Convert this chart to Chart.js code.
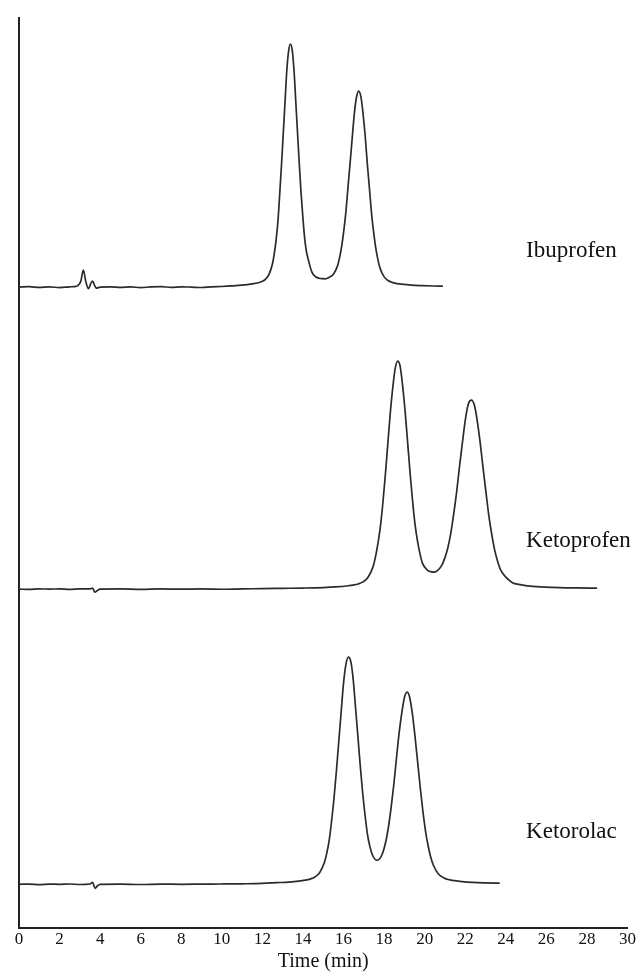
<!DOCTYPE html>
<html>
<head>
<meta charset="utf-8">
<script src="https://cdn.jsdelivr.net/npm/chart.js@4.4.1/dist/chart.umd.min.js"></script>
<style>
  html, body { margin: 0; padding: 0; background: #fff; }
  #wrap { position: relative; width: 638px; height: 973px; }
</style>
</head>
<body>
<div id="wrap"><canvas id="myChart"></canvas></div>
<script>
'use strict';

// compound names, top to bottom
var traceNames = ['Ibuprofen', 'Ketoprofen', 'Ketorolac'];

// x axis ticks (min)
var timeTicks = [0, 2, 4, 6, 8, 10, 12, 14, 16, 18, 20, 22, 24, 26, 28, 30];

// Ibuprofen trace: time (min) / detector signal (arb. units)
var ibuTime = [
  0, 0.5, 1, 1.5, 2, 2.5, 2.7, 2.9, 3.05, 3.17,
  3.3, 3.42, 3.55, 3.63, 3.72, 3.82, 4, 4.5, 5, 5.5,
  6, 6.5, 7, 7.5, 8, 8.5, 9, 9.5, 10, 10.5,
  11, 11.5, 11.8, 12, 12.15, 12.32, 12.5, 12.59, 12.68, 12.77,
  12.85, 12.94, 13.03, 13.12, 13.2, 13.29, 13.38, 13.47, 13.56, 13.64,
  13.73, 13.82, 13.91, 14, 14.08, 14.17, 14.26, 14.44, 14.61, 14.79,
  14.96, 15.1, 15.28, 15.49, 15.7, 15.8, 15.91, 16.01, 16.12, 16.22,
  16.33, 16.44, 16.54, 16.65, 16.75, 16.86, 16.96, 17.07, 17.17, 17.28,
  17.38, 17.49, 17.59, 17.7, 17.8, 18.01, 18.22, 18.43, 18.64, 18.85,
  19.35, 19.9, 20.4, 20.9
];
var ibuSignal = [
  0, 0.4, -0.3, 0.2, -0.5, 0.3, 0.5, 1.5, 6, 17,
  5, -1.5, 4, 6, 2, -1, 0, 0.3, -0.3, 0.2,
  -0.5, 0.2, 0.4, -0.2, 0.3, 0, -0.4, 0.3, 0.6, 1.2,
  2, 3.3, 4.4, 5.8, 7.8, 12.4, 23.6, 34, 48, 67,
  92, 121.5, 154, 186.6, 215.5, 235.7, 243, 237, 216.5, 187.5,
  155, 122.5, 93, 68.5, 49.5, 35.7, 27.7, 15, 10.6, 8.9,
  8.4, 8.3, 9.6, 12.6, 21, 29, 41, 56, 76, 100,
  125.5, 152, 175, 191, 196, 190, 174, 150.5, 124, 98,
  74, 54, 39, 27, 19, 10, 6.3, 4.5, 3.5, 2.9,
  1.9, 1.4, 1.1, 0.9
];

// Ketoprofen trace
var ketoTime = [
  0, 0.5, 1, 1.5, 2, 2.5, 3, 3.5, 3.63, 3.74,
  3.85, 4, 5, 6, 7, 8, 9, 10, 11, 12,
  13, 14, 15, 15.6, 16.23, 16.47, 16.72, 16.96, 17.2, 17.45,
  17.57, 17.69, 17.82, 17.94, 18.06, 18.18, 18.3, 18.43, 18.55, 18.67,
  18.79, 18.91, 19.04, 19.16, 19.28, 19.4, 19.52, 19.65, 19.77, 19.89,
  20.13, 20.3, 20.45, 20.6, 20.85, 20.99, 21.14, 21.29, 21.43, 21.58,
  21.72, 21.87, 22.01, 22.16, 22.3, 22.45, 22.59, 22.74, 22.88, 23.03,
  23.17, 23.32, 23.46, 23.61, 23.75, 24.04, 24.33, 24.62, 24.91, 25.2,
  25.93, 26.65, 27.5, 28.5
];
var ketoSignal = [
  0, -0.3, 0.3, 0, 0.3, -0.2, 0.3, 0.2, 1, -3,
  -1.5, 0, 0.2, -0.2, 0.2, 0, 0.2, -0.1, 0.3, 0.5,
  0.8, 1.1, 1.6, 2.2, 3.4, 4.1, 5.2, 7.3, 11.6, 22,
  31.7, 45, 63, 86.4, 114, 144.5, 175, 202, 221, 228,
  223, 204, 177, 146.7, 116.4, 89, 65.6, 47.8, 35.3, 26,
  19, 17.5, 17, 18, 24, 31, 41.2, 56, 75, 97.7,
  123, 148, 170, 185.5, 189, 184, 168.5, 146, 121, 95.5,
  72.5, 53.2, 38.2, 27, 19, 11.3, 6.5, 4.7, 3.8, 3.1,
  2.1, 1.5, 1.2, 1
];

// Ketorolac trace
var ketorTime = [
  0, 0.5, 1, 1.5, 2, 2.5, 3, 3.5, 3.63, 3.75,
  3.87, 4, 5, 6, 7, 8, 9, 10, 11, 12,
  12.7, 13.3, 13.88, 14.12, 14.35, 14.59, 14.82, 15.06, 15.18, 15.3,
  15.41, 15.53, 15.65, 15.77, 15.89, 16, 16.12, 16.24, 16.36, 16.48,
  16.59, 16.71, 16.83, 16.95, 17.07, 17.18, 17.3, 17.42, 17.65, 17.89,
  18.09, 18.22, 18.35, 18.48, 18.61, 18.74, 18.87, 19, 19.13, 19.26,
  19.39, 19.52, 19.65, 19.78, 19.91, 20.04, 20.17, 20.3, 20.43, 20.69,
  20.95, 21.21, 21.47, 21.73, 22.38, 23.03, 23.7
];
var ketorSignal = [
  0, 0.2, -0.3, 0.2, 0, 0.3, -0.2, 0.3, 2, -4,
  -1.5, 0, 0.2, -0.2, 0.2, 0, 0.2, 0.3, 0.5, 0.9,
  1.6, 2.2, 3.4, 4.1, 5.2, 7.3, 11.6, 22, 31.6, 45,
  63, 86, 113.5, 144, 174, 201, 220, 227, 222.5, 204,
  177, 147.3, 117, 90, 67.5, 50, 37.6, 29.5, 24, 29.3,
  43.3, 58, 77.3, 100, 126, 151, 171, 186.5, 192, 187,
  171, 148.5, 123, 97, 73.5, 53.5, 38.5, 27, 19, 10,
  6.3, 4.5, 3.6, 3, 1.9, 1.4, 1.1
];

function toPoints(times, values) {
  return times.map(function(t, i) { return { x: t, y: values[i] }; });
}

function traceAxis(min, max, weight) {
  return {
    type: 'linear',
    position: 'left',
    stack: 'traces',
    stackWeight: 1,
    weight: weight,
    min: min,
    max: max,
    ticks: { display: false },
    grid: { display: false, drawTicks: false },
    border: { color: '#222', width: 2 }
  };
}

// writes the compound name next to each trace
var nameLabels = {
  id: 'nameLabels',
  afterDatasetsDraw: function(chart, args, opts) {
    var ctx = chart.ctx;
    var x = chart.scales.x.getPixelForValue(opts.at);
    ctx.save();
    ctx.font = '23px "Liberation Serif", "Times New Roman", serif';
    ctx.fillStyle = '#111';
    ctx.textAlign = 'left';
    ctx.textBaseline = 'alphabetic';
    chart.data.datasets.forEach(function(ds, i) {
      var y = chart.scales[ds.yAxisID].getPixelForValue(opts.levels[i]);
      ctx.fillText(ds.label, x, y);
    });
    ctx.restore();
  }
};

var lineStyle = {
  borderColor: '#2b2b2b',
  borderWidth: 1.7,
  pointRadius: 0,
  fill: false,
  cubicInterpolationMode: 'monotone'
};

var ctx = document.getElementById('myChart').getContext('2d');

var chart = new Chart(ctx, {
  type: 'line',
  data: {
    datasets: [
      Object.assign({ label: traceNames[0], yAxisID: 'yIbu', data: toPoints(ibuTime, ibuSignal) }, lineStyle),
      Object.assign({ label: traceNames[1], yAxisID: 'yKeto', data: toPoints(ketoTime, ketoSignal) }, lineStyle),
      Object.assign({ label: traceNames[2], yAxisID: 'yKetor', data: toPoints(ketorTime, ketorSignal) }, lineStyle)
    ]
  },
  options: {
    responsive: true,
    maintainAspectRatio: false,
    animation: false,
    layout: { padding: { left: 19, right: 10, top: 18, bottom: 0 } },
    plugins: {
      legend: { display: false },
      tooltip: { enabled: false },
      nameLabels: { at: 25, levels: [30, 42, 46] }
    },
    scales: {
      x: {
        type: 'linear',
        min: 0,
        max: 30,
        afterBuildTicks: function(axis) {
          axis.ticks = timeTicks.map(function(v) { return { value: v }; });
        },
        ticks: {
          color: '#111',
          padding: 2,
          maxRotation: 0,
          autoSkip: false,
          font: { family: '"Liberation Serif", serif', size: 17, lineHeight: 1.1 }
        },
        grid: { display: false, drawTicks: false },
        border: { color: '#222', width: 2 },
        title: {
          display: true,
          text: 'Time (min)',
          color: '#111',
          padding: 0,
          font: { family: '"Liberation Serif", serif', size: 20, lineHeight: 1.1 }
        }
      },
      yIbu: traceAxis(-34.3, 269, 3),
      yKeto: traceAxis(-35.7, 267.6, 2),
      yKetor: traceAxis(-44, 259.3, 1)
    }
  },
  plugins: [nameLabels]
});
</script>
</body>
</html>
